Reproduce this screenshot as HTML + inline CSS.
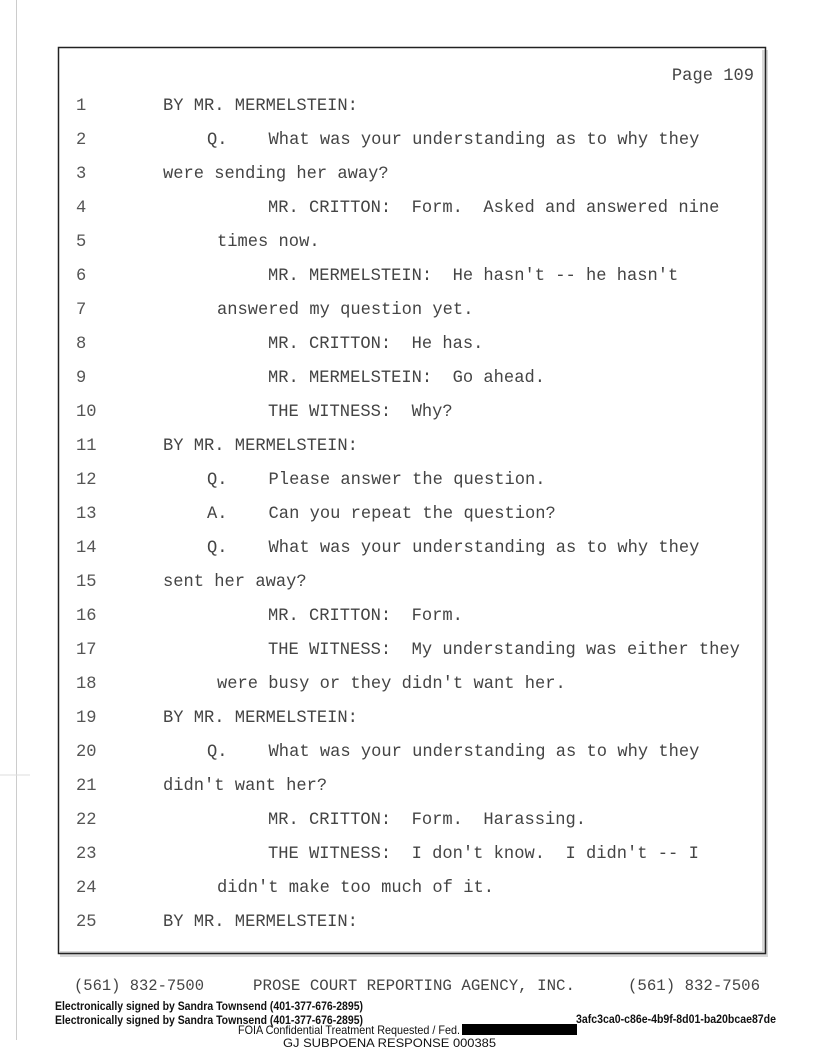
<!DOCTYPE html>
<html><head><meta charset="utf-8"><style>
html,body{margin:0;padding:0;background:#fff;}
svg{display:block;}
text{white-space:pre;}
.t{font-family:"Liberation Mono",monospace;font-size:17.1px;fill:#444;}
.n{font-family:"Liberation Mono",monospace;font-size:17.1px;fill:#555;}
.s{font-family:"Liberation Sans",Arial,sans-serif;font-weight:bold;font-size:12px;fill:#111;}
.f{font-family:"Liberation Sans",Arial,sans-serif;font-size:12px;fill:#111;}
</style></head><body>
<svg width="816" height="1056" viewBox="0 0 816 1056" xmlns="http://www.w3.org/2000/svg">
<line x1="16.5" y1="0" x2="16.5" y2="1040" stroke="#ccc" stroke-width="1"/>
<line x1="0" y1="775" x2="30" y2="775" stroke="#ddd" stroke-width="1"/>
<rect x="762" y="50" width="6" height="907" fill="#d8d8d8"/>
<rect x="60" y="951" width="708" height="6" fill="#d8d8d8"/>
<rect x="58.5" y="47.5" width="707" height="906" fill="none" stroke="#222" stroke-width="1.5"/>
<text class="t" x="754" y="80" text-anchor="end">Page 109</text>
<g class="n">
<text x="76" y="110">1</text><text x="76" y="144">2</text><text x="76" y="178">3</text><text x="76" y="212">4</text><text x="76" y="246">5</text><text x="76" y="280">6</text><text x="76" y="314">7</text><text x="76" y="348">8</text><text x="76" y="382">9</text><text x="76" y="416">10</text><text x="76" y="450">11</text><text x="76" y="484">12</text><text x="76" y="518">13</text><text x="76" y="552">14</text><text x="76" y="586">15</text><text x="76" y="620">16</text><text x="76" y="654">17</text><text x="76" y="688">18</text><text x="76" y="722">19</text><text x="76" y="756">20</text><text x="76" y="790">21</text><text x="76" y="824">22</text><text x="76" y="858">23</text><text x="76" y="892">24</text><text x="76" y="926">25</text>
</g>
<g class="t">
<text x="163" y="110">BY MR. MERMELSTEIN:</text>
<text x="207" y="144">Q.    What was your understanding as to why they</text>
<text x="163" y="178">were sending her away?</text>
<text x="268" y="212">MR. CRITTON:  Form.  Asked and answered nine</text>
<text x="217" y="246">times now.</text>
<text x="268" y="280">MR. MERMELSTEIN:  He hasn't -- he hasn't</text>
<text x="217" y="314">answered my question yet.</text>
<text x="268" y="348">MR. CRITTON:  He has.</text>
<text x="268" y="382">MR. MERMELSTEIN:  Go ahead.</text>
<text x="268" y="416">THE WITNESS:  Why?</text>
<text x="163" y="450">BY MR. MERMELSTEIN:</text>
<text x="207" y="484">Q.    Please answer the question.</text>
<text x="207" y="518">A.    Can you repeat the question?</text>
<text x="207" y="552">Q.    What was your understanding as to why they</text>
<text x="163" y="586">sent her away?</text>
<text x="268" y="620">MR. CRITTON:  Form.</text>
<text x="268" y="654">THE WITNESS:  My understanding was either they</text>
<text x="217" y="688">were busy or they didn't want her.</text>
<text x="163" y="722">BY MR. MERMELSTEIN:</text>
<text x="207" y="756">Q.    What was your understanding as to why they</text>
<text x="163" y="790">didn't want her?</text>
<text x="268" y="824">MR. CRITTON:  Form.  Harassing.</text>
<text x="268" y="858">THE WITNESS:  I don't know.  I didn't -- I</text>
<text x="217" y="892">didn't make too much of it.</text>
<text x="163" y="926">BY MR. MERMELSTEIN:</text>
</g>
<g class="t" style="font-size:16px">
<text x="74" y="990" textLength="130" lengthAdjust="spacingAndGlyphs">(561) 832-7500</text>
<text x="253" y="990" textLength="322" lengthAdjust="spacingAndGlyphs">PROSE COURT REPORTING AGENCY, INC.</text>
<text x="628" y="990" textLength="132" lengthAdjust="spacingAndGlyphs">(561) 832-7506</text>
</g>
<text class="s" x="55" y="1010" textLength="308" lengthAdjust="spacingAndGlyphs">Electronically signed by Sandra Townsend (401-377-676-2895)</text>
<text class="s" x="55" y="1024" textLength="308" lengthAdjust="spacingAndGlyphs">Electronically signed by Sandra Townsend (401-377-676-2895)</text>
<text class="f" x="238" y="1034" textLength="222" lengthAdjust="spacingAndGlyphs">FOIA Confidential Treatment Requested / Fed.</text>
<rect x="462" y="1024" width="115" height="11" fill="#000"/>
<text class="s" x="576" y="1023" textLength="200" lengthAdjust="spacingAndGlyphs">3afc3ca0-c86e-4b9f-8d01-ba20bcae87de</text>
<text class="f" x="283" y="1047" textLength="213" lengthAdjust="spacingAndGlyphs">GJ SUBPOENA RESPONSE 000385</text>
</svg>
</body></html>
